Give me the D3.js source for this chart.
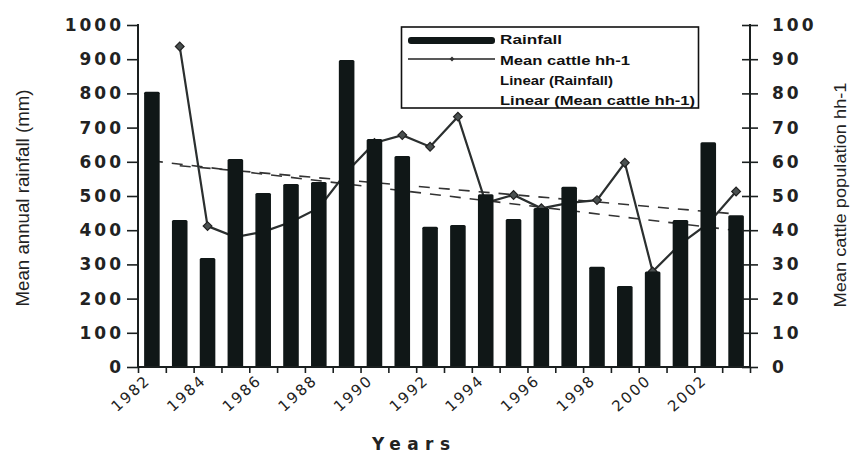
<!DOCTYPE html>
<html><head><meta charset="utf-8">
<script src="https://cdn.jsdelivr.net/npm/d3@7"></script>
<style>
html,body{margin:0;padding:0;background:#fff;}
svg{display:block;}
</style></head>
<body>
<svg id="chart" width="859" height="457"></svg>
<script>
// ---- data ----
const years = [1982,1983,1984,1985,1986,1987,1988,1989,1990,1991,1992,1993,1994,1995,1996,1997,1998,1999,2000,2001,2002,2003];
const rainfall = [805,430,319,608,509,535,541,898,667,617,410,415,505,433,465,527,293,237,279,430,657,444];
const cattle = [null,93.7,41.2,38,39.5,42.4,46.5,57,65.5,67.8,64.4,73.2,48,50.3,46.4,48,48.8,59.7,27.9,36,42,51.3];
const xTickLabels = ["1982","1984","1986","1988","1990","1992","1994","1996","1998","2000","2002"];
const leftTicks = [0,100,200,300,400,500,600,700,800,900,1000];
const rightTicks = [0,10,20,30,40,50,60,70,80,90,100];
const legendItems = ["Rainfall","Mean cattle hh-1","Linear (Rainfall)","Linear (Mean cattle hh-1)"];

// ---- layout ----
const svg = d3.select("#chart");
const X0 = 138, X1 = 750, Y0 = 367, Y1 = 25;
const ink = "#1a1f1f";
const font = "'DejaVu Sans', sans-serif";

const x = d3.scaleBand().domain(years).range([X0, X1]).paddingInner(0.44).paddingOuter(0.22);
const xc = d => x(d) + x.bandwidth()/2;
const yL = d3.scaleLinear().domain([0,1000]).range([Y0, Y1]);
const yR = d3.scaleLinear().domain([0,100]).range([Y0, Y1]);

// trendlines (least squares from the data)
function fit(xs, ys){
  const n = xs.length, mx = d3.mean(xs), my = d3.mean(ys);
  let sxy=0, sxx=0;
  for(let i=0;i<n;i++){ sxy += (xs[i]-mx)*(ys[i]-my); sxx += (xs[i]-mx)**2; }
  const b = sxy/sxx, a = my - b*mx;
  return t => a + b*t;
}
const rIdx = years.map((d,i)=>i);
const rFit = fit(rIdx, rainfall);
const cPairs = years.map((d,i)=>[i,cattle[i]]).filter(p=>p[1]!=null);
const cFit = fit(cPairs.map(p=>p[0]), cPairs.map(p=>p[1]));
const idxX = d3.scaleLinear().domain([0, years.length-1]).range([xc(years[0]), xc(years[years.length-1])]);

const g = svg.append("g");
g.append("line")
  .attr("x1", idxX(0)).attr("y1", yL(rFit(0)))
  .attr("x2", idxX(years.length-1)).attr("y2", yL(rFit(years.length-1)))
  .attr("stroke","#333").attr("stroke-width",1.6).attr("stroke-dasharray","11,9");
const c0 = cPairs[0][0], c1 = cPairs[cPairs.length-1][0];
g.append("line")
  .attr("x1", idxX(c0)).attr("y1", yR(cFit(c0)))
  .attr("x2", idxX(c1)).attr("y2", yR(cFit(c1)))
  .attr("stroke","#333").attr("stroke-width",1.6).attr("stroke-dasharray","11,9");

// cattle line
const line = d3.line().defined(d=>d.v!=null).x(d=>xc(d.y)).y(d=>yR(d.v));
const cData = years.map((y,i)=>({y, v:cattle[i]}));
g.append("path").datum(cData).attr("d", line)
  .attr("fill","none").attr("stroke","#2b2f2f").attr("stroke-width",2.2);
g.selectAll(".mk").data(cData.filter(d=>d.v!=null)).join("path")
  .attr("class","mk")
  .attr("d", d3.symbol(d3.symbolSquare, 38)())
  .attr("transform", d=>`translate(${xc(d.y)},${yR(d.v)}) rotate(45)`)
  .attr("fill","#4a5050").attr("stroke","#222").attr("stroke-width",1.2);

// bars
g.selectAll(".bar").data(years).join("rect")
  .attr("class","bar")
  .attr("x", d=>x(d)).attr("width", x.bandwidth())
  .attr("y", (d,i)=>yL(rainfall[i])).attr("height", (d,i)=>Y0 - yL(rainfall[i]))
  .attr("fill","#101717").attr("rx",1.5);

// left axis
const axL = svg.append("g").attr("transform",`translate(${X0},0)`)
  .call(d3.axisLeft(yL).tickValues(leftTicks).tickSize(11).tickPadding(6).tickFormat(d3.format("d")));
axL.select(".domain").attr("stroke",ink).attr("stroke-width",2).attr("d",`M0,${Y1-1}V${Y0+1}`);
axL.selectAll(".tick line").attr("stroke",ink).attr("stroke-width",1.6);
axL.selectAll(".tick text").attr("font-family",font).attr("font-size",17).attr("font-weight","bold")
  .attr("fill","#222").attr("letter-spacing","3px").attr("dx","3");

// right axis (ticks cross)
const axR = svg.append("g").attr("transform",`translate(${X1},0)`)
  .call(d3.axisRight(yR).tickValues(rightTicks).tickSize(8).tickPadding(14).tickFormat(d3.format("d")));
axR.select(".domain").attr("stroke",ink).attr("stroke-width",2).attr("d",`M0,${Y1-1}V${Y0+1}`);
axR.selectAll(".tick line").attr("stroke",ink).attr("stroke-width",1.6).attr("x1",-8);
axR.selectAll(".tick text").attr("font-family",font).attr("font-size",17).attr("font-weight","bold")
  .attr("fill","#222").attr("letter-spacing","3px");

// bottom axis
const bnd = d3.scaleLinear().domain([0, years.length]).range([X0, X1]);
const axB = svg.append("g").attr("transform",`translate(0,${Y0})`)
  .call(d3.axisBottom(bnd).tickValues(d3.range(years.length+1)).tickSize(6).tickFormat(""));
axB.select(".domain").attr("stroke",ink).attr("stroke-width",2.2).attr("d",`M${X0},0H${X1}`);
axB.selectAll(".tick line").attr("stroke",ink).attr("stroke-width",1.6);

svg.append("g").selectAll("text").data(xTickLabels).join("text")
  .attr("transform", d=>`translate(${xc(+d)-2},${Y0+16}) rotate(-42)`)
  .attr("text-anchor","end").attr("dx","2")
  .attr("font-family",font).attr("font-size",15)
  .attr("letter-spacing","2px").attr("fill","#222").text(d=>d);

// axis titles
svg.append("text").attr("transform","translate(29,198) rotate(-90)")
  .attr("text-anchor","middle").attr("font-family","'Liberation Sans', Arial, sans-serif")
  .attr("font-size",19).attr("fill","#222")
  .attr("textLength",217).attr("lengthAdjust","spacingAndGlyphs")
  .text("Mean annual rainfall (mm)");
svg.append("text").attr("transform","translate(846,195) rotate(-90)")
  .attr("text-anchor","middle").attr("font-family","'Liberation Sans', Arial, sans-serif")
  .attr("font-size",17).attr("fill","#222")
  .attr("textLength",225).attr("lengthAdjust","spacingAndGlyphs")
  .text("Mean cattle population hh-1");
svg.append("text").attr("x",411).attr("y",450)
  .attr("text-anchor","middle").attr("font-family",font)
  .attr("font-size",17).attr("font-weight","bold").attr("fill","#222")
  .attr("textLength",78).attr("lengthAdjust","spacing")
  .text("Years");

// legend
const lg = svg.append("g");
lg.append("rect").attr("x",401.5).attr("y",27).attr("width",297).attr("height",81)
  .attr("fill","#fff").attr("stroke","#111").attr("stroke-width",1.6);
lg.append("rect").attr("x",408).attr("y",37).attr("width",87).attr("height",7).attr("rx",3).attr("fill","#101717");
lg.append("line").attr("x1",408).attr("x2",495).attr("y1",59).attr("y2",59).attr("stroke","#222").attr("stroke-width",1.6);
lg.append("path").attr("d", d3.symbol(d3.symbolSquare, 12)()).attr("transform","translate(452,59) rotate(45)").attr("fill","#333");
const lgLens = [62,130,113,195];
const lgBase = [44,65,85,105];
lg.selectAll(".lt").data(legendItems).join("text").attr("class","lt")
  .attr("x",500).attr("y",(d,i)=>lgBase[i])
  .attr("font-family","'Liberation Sans', Arial, sans-serif").attr("font-size",13).attr("font-weight","bold")
  .attr("fill","#111")
  .attr("textLength",(d,i)=>lgLens[i]).attr("lengthAdjust","spacingAndGlyphs")
  .text(d=>d);
</script>
</body></html>
